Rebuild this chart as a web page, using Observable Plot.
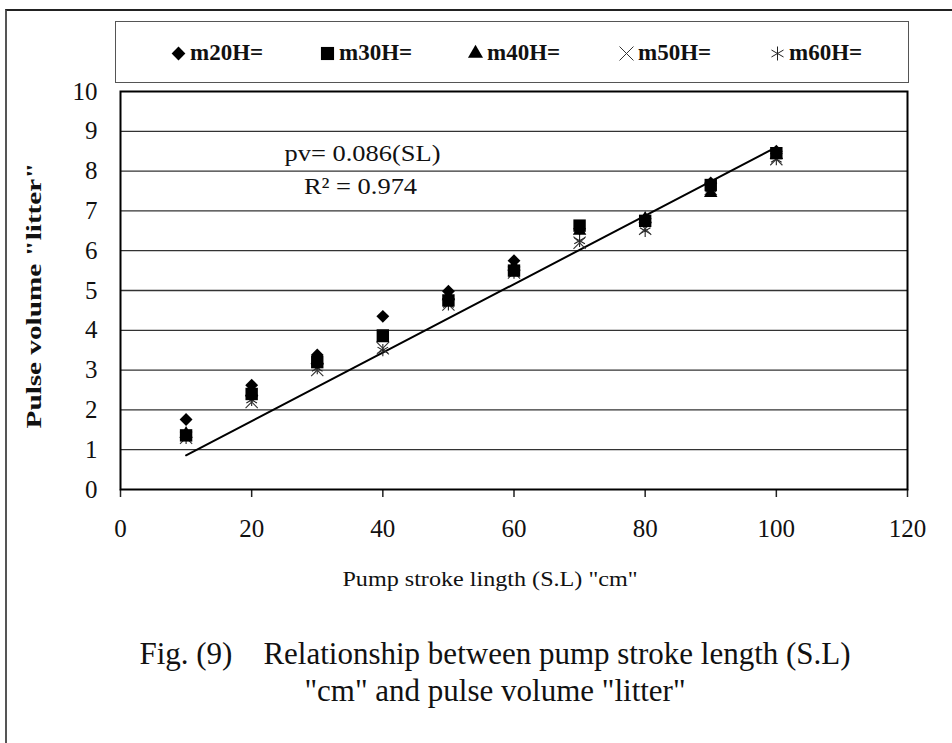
<!DOCTYPE html>
<html>
<head>
<meta charset="utf-8">
<script src="https://cdn.jsdelivr.net/npm/d3@7"></script>
<script src="https://cdn.jsdelivr.net/npm/@observablehq/plot@0.6"></script>
<style>
  html, body { margin: 0; padding: 0; background: #fff; }
  #wrap { position: relative; width: 952px; height: 743px; overflow: hidden; font-family: "Liberation Serif", "Times New Roman", serif; }
  #outer { position: absolute; left: 5px; top: 9px; width: 1000px; height: 800px; border-left: 2px solid #555; border-top: 2px solid #222; }
  #chart { position: absolute; left: 0; top: 0; }
  #legend { position: absolute; left: 115px; top: 21px; width: 792px; height: 60px; border: 1.5px solid #555; background: #fff; }
  .item { position: absolute; top: 18px; font-weight: bold; font-size: 23px; line-height: 26px; display: flex; align-items: center; white-space: nowrap; color: #111; }
  .item svg { margin-right: 4px; }
  .cap { position: absolute; left: 0; width: 990px; text-align: center; font-size: 31px; line-height: 36px; white-space: pre; color: #111; }
</style>
</head>
<body>
<div id="wrap">
  <div id="outer"></div>
  <div id="chart"></div>
  <div id="legend"></div>
  <div class="cap" style="top:636px;">Fig. (9)    Relationship between pump stroke length (S.L)</div>
  <div class="cap" style="top:673px;">"cm" and pulse volume "litter"</div>
</div>
<script>
// ---- data ----
const strokeLength = [10, 20, 30, 40, 50, 60, 70, 80, 90, 100];
const m20H = [1.76, 2.62, 3.38, 4.35, 4.98, 5.75, 6.55, 6.8, 7.7, 8.5];
const m30H = [1.36, 2.4, 3.2, 3.87, 4.75, 5.5, 6.63, 6.75, 7.65, 8.45];
const m40H = [1.4, 2.45, 3.25, 3.8, 4.85, 5.6, 6.5, 6.8, 7.45, 8.4];
const m50H = [1.3, 2.2, 3.0, 3.55, 4.65, 5.45, 6.2, 6.55, 7.55, 8.3];
const m60H = [1.3, 2.25, 3.05, 3.5, 4.65, 5.45, 6.25, 6.5, 7.55, 8.3];
const seriesNames = ["m20H=", "m30H=", "m40H=", "m50H=", "m60H="];
const xTicks = [0, 20, 40, 60, 80, 100, 120];
const yTicks = [0, 1, 2, 3, 4, 5, 6, 7, 8, 9, 10];
const fitSlope = 0.086;
const fitRange = [10, 100];
const equationLines = ["pv= 0.086(SL)", "R\u00B2 = 0.974"];
const xTitle = 'Pump stroke lingth (S.L) "cm"';
const yTitle = 'Pulse volume "litter"';

// ---- build tables ----
const seriesValues = [m20H, m30H, m40H, m50H, m60H];
const styles = [
  {symbol: "diamond2", fill: "black", stroke: "none", r: 5.8, lr: 6.2},
  {symbol: "square", fill: "black", stroke: "none", r: 7, lr: 7.4},
  {symbol: "triangle", fill: "black", stroke: "none", r: 5, lr: 5.6},
  {symbol: "times", fill: "none", stroke: "#333", r: 5.6, lr: 6.4},
  {symbol: "asterisk", fill: "none", stroke: "#222", r: 5.8, lr: 6.6}
];
const tables = seriesValues.map((vals, i) => strokeLength.map((x, j) => ({x, y: vals[j], s: seriesNames[i]})));
const fit = fitRange.map(x => ({x, y: fitSlope * x}));

const font = '"Liberation Serif", "Times New Roman", serif';

const dotMarks = [4, 3, 2, 0, 1].map(i => Plot.dot(tables[i], {
  x: "x", y: "y", symbol: () => styles[i].symbol, r: styles[i].r,
  fill: styles[i].fill, stroke: styles[i].stroke, strokeWidth: 1.1
}));

const chart = Plot.plot({
  width: 952,
  height: 743,
  marginLeft: 120,
  marginRight: 45,
  marginTop: 91,
  marginBottom: 254,
  style: {fontFamily: font, background: "transparent", color: "#111"},
  x: {domain: [0, 120], ticks: xTicks},
  y: {domain: [0, 10], ticks: yTicks},
  symbol: {type: "identity"},
  marks: [
    Plot.gridY(yTicks.slice(1, -1), {stroke: "#333", strokeOpacity: 1, strokeWidth: 1.3}),
    Plot.axisX(xTicks, {tickSize: 8, tickPadding: 22, fontSize: 25, label: null, stroke: "#222", strokeWidth: 1.5}),
    Plot.axisY(yTicks, {tickSize: 0, tickPadding: 23, fontSize: 25, label: null}),
    Plot.line(fit, {x: "x", y: "y", stroke: "black", strokeWidth: 2}),
    ...dotMarks,
    Plot.text([equationLines[0]], {ariaLabel: () => "eq", frameAnchor: "top-left", dx: 242, dy: 62, fontSize: 23, textAnchor: "middle", lineAnchor: "middle"}),
    Plot.text([equationLines[1]], {ariaLabel: () => "eq", frameAnchor: "top-left", dx: 240, dy: 95, fontSize: 23, textAnchor: "middle", lineAnchor: "middle"}),
    Plot.text([xTitle], {ariaLabel: () => "xtitle", frameAnchor: "bottom", dx: -24, dy: 90, fontSize: 21, textAnchor: "middle", lineAnchor: "middle"}),
    Plot.text([yTitle], {ariaLabel: () => "ytitle", frameAnchor: "left", dx: -86, dy: 5, rotate: -90, fontSize: 20, fontWeight: "bold", textAnchor: "middle", lineAnchor: "middle"}),
    Plot.frame({stroke: "black", strokeWidth: 2})
  ]
});
document.getElementById("chart").appendChild(chart);

// horizontal stretching of some texts (as in the reference rendering)
function stretch(label, s) {
  d3.select(chart).selectAll("text").filter(function () {
    return this.getAttribute("aria-label") === label;
  }).each(function () {
    const el = d3.select(this);
    let tr = el.attr("transform");
    if (!tr) {
      const x = +el.attr("x") || 0, y = +el.attr("y") || 0;
      tr = `translate(${x},${y})`;
      el.attr("x", null).attr("y", null);
    }
    el.attr("transform", tr + ` scale(${s},1)`);
  });
}
stretch("eq", 1.15);
stretch("xtitle", 1.15);
stretch("ytitle", 1.46);

// ---- legend ----
const legend = document.getElementById("legend");
const legendLeft = [54, 203, 351, 502, 653];
seriesNames.forEach((name, i) => {
  const item = document.createElement("div");
  item.className = "item";
  item.style.left = legendLeft[i] + "px";
  const st = styles[i];
  const sym = Plot.dot([0], {x: () => 0, y: () => 0, symbol: () => st.symbol, r: st.lr, fill: st.fill, stroke: st.stroke, strokeWidth: 1})
    .plot({width: 16, height: 18, margin: 0, x: {domain: [-1, 1], axis: null}, y: {domain: [-1, 1], axis: null}, symbol: {type: "identity"}, style: {background: "transparent", overflow: "visible"}});
  item.appendChild(sym);
  const t = document.createElement("span");
  t.textContent = name;
  item.appendChild(t);
  legend.appendChild(item);
});
</script>
</body>
</html>
